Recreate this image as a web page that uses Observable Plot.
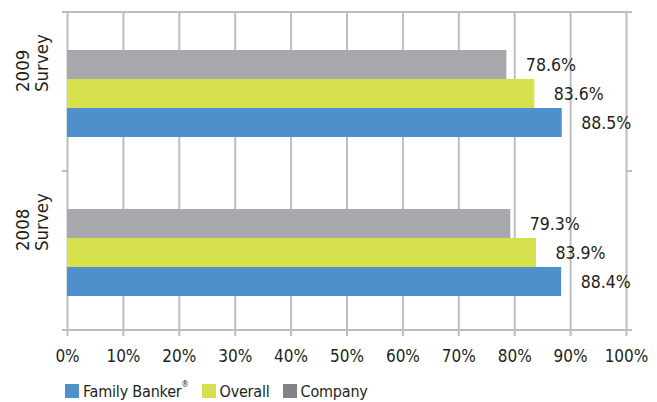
<!DOCTYPE html>
<html><head><meta charset="utf-8">
<script src="https://cdn.jsdelivr.net/npm/d3@7"></script>
<script src="https://cdn.jsdelivr.net/npm/@observablehq/plot@0.6"></script>
<style>
body{margin:0;background:#fff;font-family:"Liberation Sans Narrow","DejaVu Sans Condensed",sans-serif;color:#231f20}
#legend{display:flex;align-items:center;height:30px;padding-left:65px;font-size:16px;margin-top:4px;letter-spacing:-0.2px}
.item{display:flex;align-items:center;margin-right:13px}
.sw{width:14px;height:14px;margin-right:4px;display:inline-block}
sup{font-size:8px;vertical-align:top;position:relative;top:-2px}
</style></head><body>
<div id="chart"></div>
<div id="legend"></div>
<script>
const surveys = ["2009", "2008"];
const seriesNames = ["Company", "Overall", "Family Banker"];
const familyBanker = [88.5, 88.4];
const overall = [83.6, 83.9];
const company = [78.6, 79.3];
const xTicks = [0, 10, 20, 30, 40, 50, 60, 70, 80, 90, 100];
const barColors = ["#a7a8ab", "#d6e04c", "#4f8fcb"];
const legendOrder = ["Family Banker", "Overall", "Company"];
const legendColors = ["#4f8fcb", "#d6e04c", "#808285"];

const valuesBySeries = {"Company": company, "Overall": overall, "Family Banker": familyBanker};
const rows = [];
surveys.forEach((s, i) => seriesNames.forEach(n => rows.push({survey: s, series: n, value: valuesBySeries[n][i]})));

const font = '"Liberation Sans Narrow","DejaVu Sans Condensed",sans-serif';
const gridColor = "#bcbec0";

const chart = Plot.plot({
  width: 657, height: 372,
  marginTop: 12, marginBottom: 42, marginLeft: 67, marginRight: 31,
  style: {fontFamily: font, fontSize: "17px", color: "#231f20", background: "#fff"},
  x: {domain: [0, 100], label: null},
  y: {domain: seriesNames, paddingInner: 0, paddingOuter: 1.24, align: 0.53, axis: null},
  fy: {domain: surveys, padding: 0, axis: null},
  color: {domain: seriesNames, range: barColors},
  marks: [
    Plot.gridX(xTicks, {stroke: gridColor, strokeOpacity: 1, strokeWidth: 2}),
    Plot.barX(rows, {fy: "survey", y: "series", x: "value", fill: "series"}),
    Plot.text(rows, {fy: "survey", y: "series", x: "value", text: d => d.value.toFixed(1) + "%", dx: 19, textAnchor: "start", fontSize: 17.5, fill: "#231f20"}),
    Plot.text(surveys, {fy: d => d, text: d => d + "\nSurvey", frameAnchor: "left", rotate: -90, dx: -35, fontSize: 18.5, lineHeight: 1, fill: "#231f20"}),
    Plot.axisX({ticks: xTicks, tickFormat: d => d + "%", tickSize: 6, tickPadding: 13, stroke: gridColor, strokeWidth: 2, fontSize: 17, label: null})
  ]
});

// frame lines & boundary ticks from the scales
const xs = chart.scale("x"), fys = chart.scale("fy");
const [xa, xb] = xs.range;
const edges = fys.domain.map(d => fys.apply(d));
edges.push(fys.apply(fys.domain[fys.domain.length - 1]) + fys.bandwidth);
const g = d3.select(chart).append("g").attr("stroke", gridColor).attr("stroke-width", 2);
[edges[0], edges[edges.length - 1]].forEach(yv => g.append("line").attr("x1", xa - 5).attr("x2", xb + 6).attr("y1", yv).attr("y2", yv));
edges.slice(1, -1).forEach(yv => {
  g.append("line").attr("x1", xa - 5).attr("x2", xa).attr("y1", yv).attr("y2", yv);
  g.append("line").attr("x1", xb).attr("x2", xb + 6).attr("y1", yv).attr("y2", yv);
});
document.getElementById("chart").appendChild(chart);

const legend = document.getElementById("legend");
legendOrder.forEach((n, i) => {
  const it = document.createElement("div");
  it.className = "item";
  it.innerHTML = `<span class="sw" style="background:${legendColors[i]}"></span><span>${n}${n === "Family Banker" ? "<sup>®</sup>" : ""}</span>`;
  legend.appendChild(it);
});
</script>
</body></html>
